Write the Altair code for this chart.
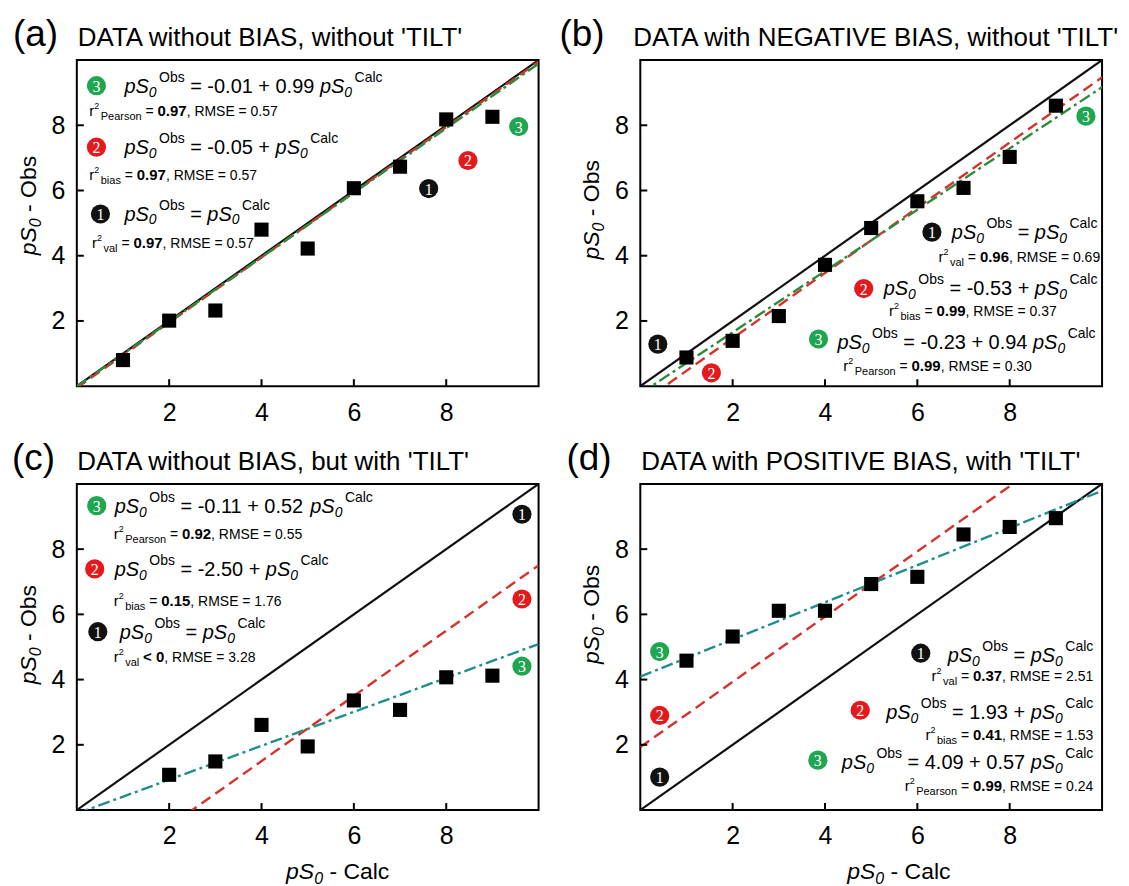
import altair as alt
import pandas as pd

# ---------------- data ----------------
CALC_X = [1, 2, 3, 4, 5, 6, 7, 8, 9]
OBS_A = [0.80, 2.01, 2.32, 4.80, 4.22, 6.07, 6.73, 8.18, 8.26]
OBS_B = [0.88, 1.39, 2.15, 3.72, 4.85, 5.67, 6.08, 7.03, 8.60]
CALC_X_C = [2, 3, 4, 5, 6, 7, 8, 9]
OBS_C = [1.08, 1.49, 2.61, 1.95, 3.36, 3.07, 4.07, 4.12]
OBS_D = [4.58, 5.32, 6.11, 6.11, 6.93, 7.15, 8.45, 8.68, 8.95]

LETTERS = ["(a)", "(b)", "(c)", "(d)"]
TITLES = ["DATA without BIAS, without 'TILT'",
          "DATA with NEGATIVE BIAS, without 'TILT'",
          "DATA without BIAS, but with 'TILT'",
          "DATA with POSITIVE BIAS, with 'TILT'"]
BIAS_TXT = ["-0.05", "-0.53", "-2.50", "1.93"]
FIT_INT_TXT = ["-0.01", "-0.23", "-0.11", "4.09"]
FIT_SLOPE_TXT = ["0.99", "0.94", "0.52", "0.57"]
R2_VAL = ["0.97", "0.96", "< 0", "0.37"]
RMSE_VAL = ["0.57", "0.69", "3.28", "2.51"]
R2_BIAS = ["0.97", "0.99", "0.15", "0.41"]
RMSE_BIAS = ["0.57", "0.37", "1.76", "1.53"]
R2_PEARSON = ["0.97", "0.99", "0.92", "0.99"]
RMSE_PEARSON = ["0.57", "0.30", "0.55", "0.24"]
TICKS = [2, 4, 6, 8]

BIAS_INTERCEPT = [float(v) for v in BIAS_TXT]
FIT_INTERCEPT = [float(v) for v in FIT_INT_TXT]
FIT_SLOPE = [float(v) for v in FIT_SLOPE_TXT]
SERIES_X = [CALC_X, CALC_X, CALC_X_C, CALC_X]
SERIES_Y = [OBS_A, OBS_B, OBS_C, OBS_D]

# ---------------- layout / style ----------------
FONT = "Liberation Sans"
W, H = 463, 327
BLACK, RED, GREEN = "#111111", "#e3191c", "#1fa650"
RED_LINE = "#d6322c"
DASHDOT = ["#2e8b3c", "#2e8b3c", "#1f8f8c", "#1f8f8c"]
CIRCLE_COLORS = {1: BLACK, 2: RED, 3: GREEN}

# numbered labels near the lines (data units)
MARK_POS = [
    {1: (7.62, 6.06), 2: (8.47, 6.92), 3: (9.57, 7.96)},
    {1: (0.38, 1.29), 2: (1.54, 0.41), 3: (9.65, 8.28)},
    {1: (9.64, 9.07), 2: (9.64, 6.47), 3: (9.64, 4.41)},
    {1: (0.42, 1.01), 2: (0.42, 2.90), 3: (0.42, 4.86)},
]
# annotation blocks: anchors in data units, circle offsets in px
ANNOT = [
    dict(align="left", eq={3: (1.03, 9.00), 2: (1.03, 7.13), 1: (1.03, 5.08)},
         st={3: (0.27, 8.28), 2: (0.27, 6.31), 1: (0.33, 4.23)},
         cdx={3: -28, 2: -28, 1: -24}, cdy={3: -7, 2: -6.5, 1: -6.5}),
    dict(align="right", eq={1: (9.90, 4.51), 2: (9.90, 2.81), 3: (9.86, 1.14)},
         st={1: (9.96, 3.82), 2: (9.02, 2.15), 3: (8.48, 0.46)},
         cdx={1: -20, 2: -20, 3: -19}, cdy={1: -7, 2: -6, 3: -10}),
    dict(align="left", eq={3: (0.82, 9.12), 2: (0.82, 7.18), 1: (0.93, 5.24)},
         st={3: (0.80, 8.31), 2: (0.80, 6.27), 1: (0.80, 4.53)},
         cdx={3: -18, 2: -20, 1: -22}, cdy={3: -7, 2: -7, 1: -7.5}),
    dict(align="right", eq={1: (9.81, 4.55), 2: (9.81, 2.80), 3: (9.81, 1.27)},
         st={1: (9.81, 3.95), 2: (9.81, 2.16), 3: (9.81, 0.58)},
         cdx={1: -27, 2: -26, 3: -24}, cdy={1: -8.5, 2: -8.5, 3: -8.5}),
]
LETTER_PX = [-64, -81, -65, -74]
TITLE_PX = [1, -7, 0.5, 1]
YTITLE_Y = [5.54, 5.41, 5.38, 6.0]
XTITLE_X = [None, None, 5.65, 5.6]

F_EQ, F_EQS, EQ_SUB, EQ_SUP = 20, 14, 4, -11
F_ST, F_STB, F_STR, F_STSUP, F_STSUB, ST_SUP, ST_SUB = 14, 15, 15, 9, 11, -7, 4

AW = {c: 556 for c in "0123456789"}
AW.update({' ': 278, "'": 191, '(': 333, ')': 333, '+': 584, ',': 278, '-': 333, '.': 278,
           '<': 584, '=': 584, 'A': 667, 'B': 667, 'C': 722, 'D': 722, 'E': 667, 'G': 778,
           'I': 278, 'L': 556, 'M': 833, 'N': 722, 'O': 778, 'P': 667, 'R': 722, 'S': 667,
           'T': 611, 'V': 667, 'a': 556, 'b': 556, 'c': 500, 'e': 556, 'h': 556, 'i': 222,
           'l': 222, 'n': 556, 'o': 556, 'p': 556, 'r': 333, 's': 500, 't': 278, 'u': 556,
           'v': 500, 'w': 722})


def tw(s, size):
    return sum(AW.get(c, 556) for c in s) * size / 1000.0


def seg_w(seg):
    text, size, style, _ = seg
    return size if style == "gap" else tw(text, size)


def place(rows, segs, xd, yd, align="left", color="black", rot=False):
    total = sum(seg_w(s) for s in segs)
    cur = {"left": 0.0, "right": -total, "center": -total / 2}[align]
    start = cur
    for text, size, style, shift in segs:
        if style == "gap":
            cur += size
            continue
        lead = len(text) - len(text.lstrip(" "))
        off = cur + tw(" " * lead, size)
        if rot:
            x, y = xd + shift * 10 / W, yd + off * 10 / H
        else:
            x, y = xd + off * 10 / W, yd - shift * 10 / H
        rows.append(dict(x=x, y=y, t=text.strip(" "), size=size, style=style,
                         rot=270 if rot else 0, color=color))
        cur += tw(text, size)
    return start


def eq_segs(mid):
    return [("pS", F_EQ, "i", 0), ("0", F_EQS, "i", EQ_SUB), ("", 2.5, "gap", 0),
            ("Obs", F_EQS, "n", EQ_SUP), (mid, F_EQ, "n", 0),
            ("pS", F_EQ, "i", 0), ("0", F_EQS, "i", EQ_SUB), ("", 2.5, "gap", 0),
            ("Calc", F_EQS, "n", EQ_SUP)]


def st_segs(kind, val, rmse):
    join = " " if val.startswith("<") else " = "
    return [("r", F_STR, "n", 0), ("2", F_STSUP, "n", ST_SUP), ("", 1.5, "gap", 0),
            (kind, F_STSUB, "n", ST_SUB), (join, F_ST, "n", 0), (val, F_STB, "b", 0),
            (", RMSE = " + rmse, F_ST, "n", 0)]


XS = alt.Scale(domain=[0, 10], nice=False, zero=False)
YS = alt.Scale(domain=[0, 10], nice=False, zero=False)
AX = alt.Axis(values=TICKS, title=None, format="d", labelOverlap=False, labelFont=FONT,
              labelFontSize=25, labelColor="black", domain=False, ticks=False, tickSize=0,
              grid=False)


def xe(f):
    return alt.X(f, type="quantitative", scale=XS, axis=AX, title=None)


def ye(f):
    return alt.Y(f, type="quantitative", scale=YS, axis=AX, title=None)


def panel(i):
    layers = []
    pts = pd.DataFrame({"calc": SERIES_X[i], "obs": SERIES_Y[i]})

    def line(a, b):
        return pd.DataFrame({"x": [0, 10], "y": [a, a + b * 10]})

    layers.append(alt.Chart(line(0.0, 1.0)).mark_line(clip=True, color=BLACK, strokeWidth=2.2)
                  .encode(x=xe("x:Q"), y=ye("y:Q")))
    layers.append(alt.Chart(line(BIAS_INTERCEPT[i], 1.0)).mark_line(
        clip=True, color=RED_LINE, strokeWidth=2.4, strokeDash=[11, 6]).encode(x=xe("x:Q"), y=ye("y:Q")))
    layers.append(alt.Chart(line(FIT_INTERCEPT[i], FIT_SLOPE[i])).mark_line(
        clip=True, color=DASHDOT[i], strokeWidth=2.4, strokeDash=[12, 4, 3, 4]).encode(x=xe("x:Q"), y=ye("y:Q")))
    layers.append(alt.Chart(pts).mark_square(size=200, color="black", opacity=1).encode(
        x=xe("calc:Q"), y=ye("obs:Q")))

    tick_df = pd.DataFrame({"t": TICKS})
    layers.append(alt.Chart(tick_df).mark_rule(color="black", strokeWidth=2).encode(
        x=xe("t:Q"), y=alt.value(H), y2=alt.value(H - 7)))
    layers.append(alt.Chart(tick_df).mark_rule(color="black", strokeWidth=2).encode(
        y=ye("t:Q"), x=alt.value(0), x2=alt.value(7)))

    # texts
    rows = []
    circles = []
    for n, (mx, my) in MARK_POS[i].items():
        circles.append(dict(x=mx, y=my, num=str(n), color=CIRCLE_COLORS[n]))
    A = ANNOT[i]
    mids = {1: " = ", 2: " = " + BIAS_TXT[i] + " + ", 3: " = " + FIT_INT_TXT[i] + " + " + FIT_SLOPE_TXT[i] + " "}
    stats = {1: ("val", R2_VAL[i], RMSE_VAL[i]), 2: ("bias", R2_BIAS[i], RMSE_BIAS[i]),
             3: ("Pearson", R2_PEARSON[i], RMSE_PEARSON[i])}
    for n in (1, 2, 3):
        ex, ey = A["eq"][n]
        start = place(rows, eq_segs(mids[n]), ex, ey, A["align"])
        cx = ex + (start + A["cdx"][n]) * 10 / W
        cy = ey - A["cdy"][n] * 10 / H
        circles.append(dict(x=cx, y=cy, num=str(n), color=CIRCLE_COLORS[n]))
        sx, sy = A["st"][n]
        place(rows, st_segs(*stats[n]), sx, sy, A["align"])

    top_y = 10 + 14 * 10 / H
    place(rows, [(LETTERS[i], 37, "n", 0)], LETTER_PX[i] * 10 / W, top_y)
    place(rows, [(TITLES[i], 26, "n", 0)], TITLE_PX[i] * 10 / W, top_y)
    place(rows, [("pS", 23, "i", 0), ("0", 16, "i", 5), (" - Obs", 23, "n", 0)],
          -41 * 10 / W, YTITLE_Y[i], "center", rot=True)
    if XTITLE_X[i] is not None:
        place(rows, [("pS", 23, "i", 0), ("0", 16, "i", 5), (" - Calc", 23, "n", 0)],
              XTITLE_X[i], -69 * 10 / H, "center")

    cdf = pd.DataFrame(circles)
    layers.append(alt.Chart(cdf).mark_circle(size=370, opacity=1).encode(
        x=xe("x:Q"), y=ye("y:Q"), color=alt.Color("color:N", scale=None)))
    layers.append(alt.Chart(cdf).mark_text(font="Liberation Serif", fontSize=16, color="white",
                                           align="center", baseline="middle", dy=1).encode(
        x=xe("x:Q"), y=ye("y:Q"), text="num:N"))

    tdf = pd.DataFrame(rows)
    for style in ("n", "i", "b"):
        for rot in (0, 270):
            sub = tdf[(tdf["style"] == style) & (tdf["rot"] == rot)]
            if sub.empty:
                continue
            kw = dict(align="left", baseline="alphabetic", font=FONT)
            if style == "i":
                kw["fontStyle"] = "italic"
            if style == "b":
                kw["fontWeight"] = "bold"
            if rot:
                kw["angle"] = 270
            layers.append(alt.Chart(sub).mark_text(**kw).encode(
                x=xe("x:Q"), y=ye("y:Q"), text="t:N",
                size=alt.Size("size:Q", scale=None),
                color=alt.Color("color:N", scale=None)))
    return alt.layer(*layers).properties(width=W, height=H)


panels = [panel(i) for i in range(4)]
chart = alt.concat(*panels, columns=2, spacing={"row": 98, "column": 102},
                   bounds="flush").properties(
    padding={"left": 3, "top": 5, "right": 0, "bottom": 5}, background="white")
chart = (chart.configure_view(stroke="black", strokeWidth=2)
         .configure_axisX(labelPadding=14)
         .configure_axisY(labelPadding=12))

chart.save("out.html", embed_options={"renderer": "svg", "actions": False})
